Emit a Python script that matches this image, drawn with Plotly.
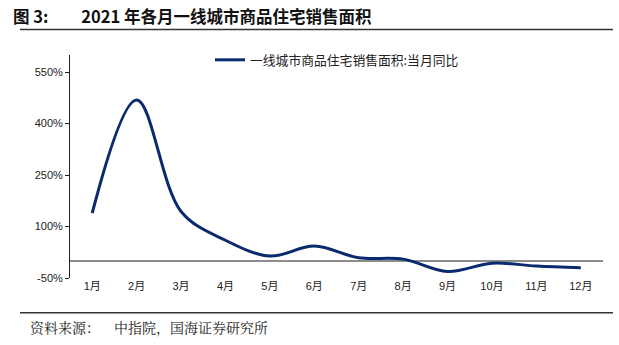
import plotly.graph_objects as go

months = ["1月", "2月", "3月", "4月", "5月", "6月", "7月", "8月", "9月", "10月", "11月", "12月"]
yoy = [139, 469, 144, 60, 14, 43, 9, 5, -31, -7, -15, -20]
y_ticks = [-50, 100, 250, 400, 550]
y_tick_labels = ["-50%", "100%", "250%", "400%", "550%"]
series_name = "一线城市商品住宅销售面积:当月同比"
title_text = "图 3:\u3000\u2002\u20022021 年各月一线城市商品住宅销售面积"
source_text = "资料来源：\u2003中指院，国海证券研究所"

W, H = 619, 345
L, R, T, B = 70, 16, 55, 67
pw, ph = W - L - R, H - T - B


def px(x):
    return (x - L) / pw


def py(y):
    return (H - B - y) / ph


fig = go.Figure()
fig.add_trace(go.Scatter(
    x=months, y=yoy, mode="lines", name=series_name,
    line=dict(color="#0a2a6e", width=3, shape="spline", smoothing=1.0),
))

fig.update_layout(
    width=W, height=H,
    margin=dict(l=L, r=R, t=T, b=B),
    paper_bgcolor="white", plot_bgcolor="white",
    font=dict(family="Liberation Sans, Noto Sans CJK SC", size=11, color="#222"),
    showlegend=True,
    legend=dict(orientation="h", x=px(210), y=py(45), xanchor="left", yanchor="top",
                font=dict(family="Noto Sans CJK SC", size=12.8, color="#222"),
                bgcolor="rgba(0,0,0,0)", itemwidth=30),
    xaxis=dict(
        type="category", range=[-0.5, 11.5], showgrid=False, showline=False,
        ticks="", tickfont=dict(family="Liberation Sans, Noto Sans CJK SC", size=11),
        fixedrange=True,
    ),
    yaxis=dict(
        range=[-50, 600], tickmode="array", tickvals=y_ticks, ticktext=y_tick_labels,
        showgrid=False, showline=True, linecolor="#222", linewidth=1,
        ticks="outside", ticklen=4, tickcolor="#222",
        zeroline=True, zerolinecolor="#8c8c8c", zerolinewidth=2,
        tickfont=dict(family="Liberation Sans", size=11),
    ),
)

# Title, rules and source note
fig.add_annotation(
    text="<b>" + title_text + "</b>",
    xref="paper", yref="paper", x=px(11), y=py(16), xanchor="left", yanchor="middle",
    showarrow=False, font=dict(family="Noto Sans CJK SC", size=16.5, color="#111"),
)
fig.add_shape(type="line", xref="paper", yref="paper",
              x0=px(20), x1=px(613), y0=py(29.5), y1=py(29.5),
              line=dict(color="#333", width=1.5))
fig.add_shape(type="line", xref="paper", yref="paper",
              x0=px(20), x1=px(613), y0=py(312.7), y1=py(312.7),
              line=dict(color="#333", width=1.5))
fig.add_annotation(
    text=source_text,
    xref="paper", yref="paper", x=px(28), y=py(327), xanchor="left", yanchor="middle",
    showarrow=False, font=dict(family="Noto Serif CJK SC, Noto Sans CJK SC", size=14, color="#222"),
)

fig.write_html("out.html", config={"displayModeBar": False})
